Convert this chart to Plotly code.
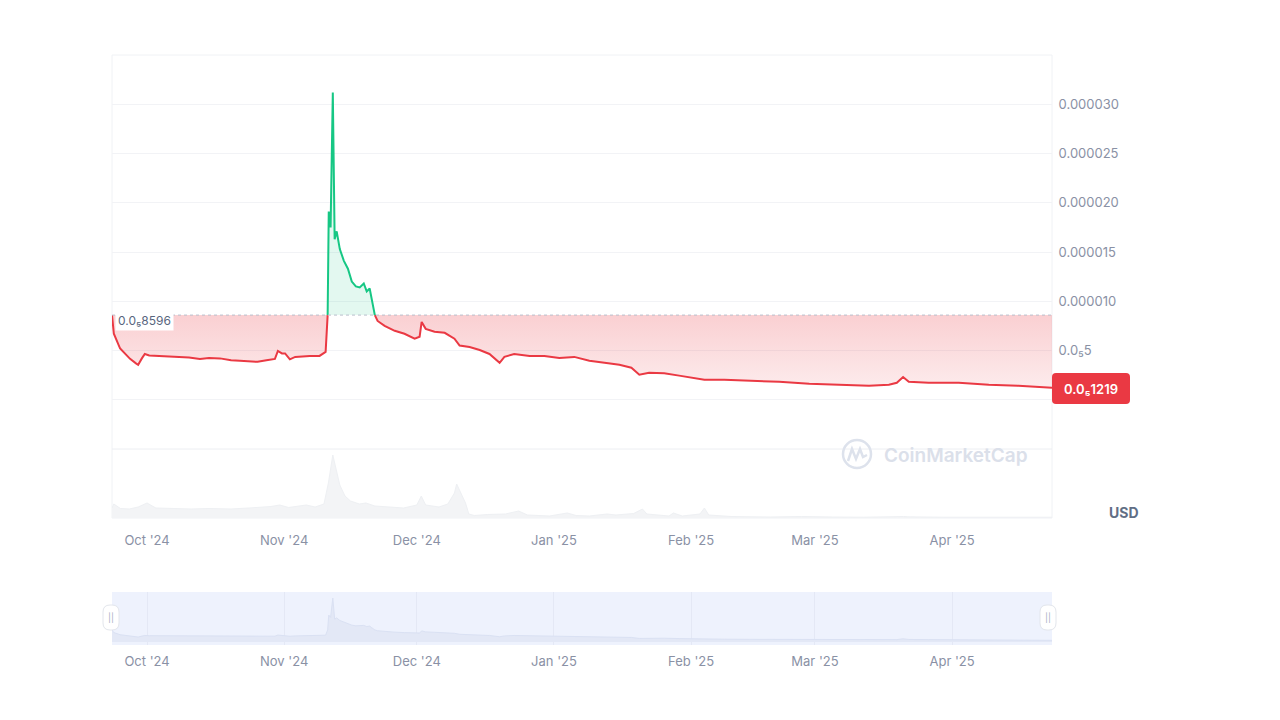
import plotly.graph_objects as go

# ---------------- data ----------------
DATES = [
    "2024-09-23 02:00", "2024-09-23 12:00", "2024-09-24 22:00", "2024-09-26 06:00", "2024-09-27 04:00",
    "2024-09-28 12:00", "2024-09-29 00:00", "2024-09-29 20:00", "2024-09-30 12:00", "2024-10-01 12:00",
    "2024-10-03 22:00", "2024-10-06 00:00", "2024-10-08 11:00", "2024-10-10 12:00", "2024-10-12 23:00",
    "2024-10-15 00:00", "2024-10-17 12:00", "2024-10-20 00:00", "2024-10-22 00:00", "2024-10-24 00:00",
    "2024-10-26 00:00", "2024-10-28 00:00", "2024-10-29 22:00", "2024-10-30 14:00", "2024-10-31 12:00",
    "2024-11-01 05:00", "2024-11-02 07:00", "2024-11-03 12:00", "2024-11-04 12:00", "2024-11-06 19:00",
    "2024-11-09 00:00", "2024-11-10 09:00", "2024-11-10 20:00", "2024-11-11 02:00", "2024-11-11 12:00",
    "2024-11-12 00:00", "2024-11-12 10:00", "2024-11-12 21:00", "2024-11-13 14:00", "2024-11-14 12:00",
    "2024-11-15 10:00", "2024-11-16 07:00", "2024-11-17 05:00", "2024-11-18 02:00", "2024-11-19 00:00",
    "2024-11-19 16:00", "2024-11-20 08:00", "2024-11-20 19:00", "2024-11-21 12:00", "2024-11-22 03:00",
    "2024-11-23 17:00", "2024-11-26 00:00", "2024-11-28 05:00", "2024-11-30 12:00", "2024-12-01 15:00",
    "2024-12-02 02:00", "2024-12-03 00:00", "2024-12-05 00:00", "2024-12-07 07:00", "2024-12-09 12:00",
    "2024-12-10 16:00", "2024-12-12 22:00", "2024-12-15 05:00", "2024-12-17 10:00", "2024-12-19 17:00",
    "2024-12-20 19:00", "2024-12-23 00:00", "2024-12-26 12:00", "2024-12-29 20:00", "2025-01-02 05:00",
    "2025-01-05 14:00", "2025-01-09 00:00", "2025-01-12 10:00", "2025-01-15 19:00", "2025-01-18 12:00",
    "2025-01-20 07:00", "2025-01-22 12:00", "2025-01-25 22:00", "2025-01-29 07:00", "2025-02-01 17:00",
    "2025-02-04 00:00", "2025-02-08 12:00", "2025-02-14 03:00", "2025-02-20 22:00", "2025-02-27 17:00",
    "2025-03-06 10:00", "2025-03-13 05:00", "2025-03-17 17:00", "2025-03-19 12:00", "2025-03-20 22:00",
    "2025-03-22 05:00", "2025-03-26 17:00", "2025-04-02 12:00", "2025-04-09 07:00", "2025-04-16 00:00",
    "2025-04-23 14:00",
]
PRICES = [
    8.596e-6, 6.7e-6, 5.2e-6, 4.6e-6, 4.15e-6,
    3.7e-6, 3.55e-6, 4.2e-6, 4.65e-6, 4.5e-6,
    4.45e-6, 4.4e-6, 4.35e-6, 4.3e-6, 4.15e-6,
    4.25e-6, 4.2e-6, 4.0e-6, 3.95e-6, 3.9e-6,
    3.85e-6, 4.0e-6, 4.15e-6, 4.95e-6, 4.7e-6,
    4.7e-6, 4.1e-6, 4.35e-6, 4.4e-6, 4.45e-6,
    4.45e-6, 4.86e-6, 8.596e-6, 19.1e-6, 17.5e-6,
    31.2e-6, 16.3e-6, 17.1e-6, 15.3e-6, 14.1e-6,
    13.3e-6, 12.0e-6, 11.5e-6, 11.4e-6, 11.8e-6,
    11.0e-6, 11.3e-6, 10.2e-6, 8.596e-6, 8.0e-6,
    7.5e-6, 7.0e-6, 6.7e-6, 6.2e-6, 6.4e-6,
    7.9e-6, 7.2e-6, 6.9e-6, 6.8e-6, 6.2e-6,
    5.5e-6, 5.35e-6, 5.05e-6, 4.65e-6, 3.75e-6,
    4.35e-6, 4.65e-6, 4.45e-6, 4.45e-6, 4.25e-6,
    4.35e-6, 3.95e-6, 3.75e-6, 3.55e-6, 3.25e-6,
    2.55e-6, 2.75e-6, 2.7e-6, 2.45e-6, 2.2e-6,
    2.02e-6, 2.02e-6, 1.92e-6, 1.82e-6, 1.62e-6,
    1.52e-6, 1.42e-6, 1.52e-6, 1.72e-6, 2.3e-6,
    1.82e-6, 1.72e-6, 1.72e-6, 1.52e-6, 1.42e-6,
    1.219e-6,
]
BASE_PRICE = 8.596e-6
LAST_PRICE = 1.219e-6

VOL_DATES = [
    "2024-09-23 02:00", "2024-09-23 12:00", "2024-09-25", "2024-09-27", "2024-09-29", "2024-10-01",
    "2024-10-03", "2024-10-06", "2024-10-11", "2024-10-15", "2024-10-20", "2024-10-24", "2024-10-29",
    "2024-10-31", "2024-11-02", "2024-11-06", "2024-11-08", "2024-11-10", "2024-11-11", "2024-11-12",
    "2024-11-12 18:00", "2024-11-13 14:00", "2024-11-14 18:00", "2024-11-16", "2024-11-18",
    "2024-11-19 12:00", "2024-11-21 12:00", "2024-11-25", "2024-11-28", "2024-12-01", "2024-12-02",
    "2024-12-03", "2024-12-06", "2024-12-08", "2024-12-09 12:00", "2024-12-10", "2024-12-11",
    "2024-12-12", "2024-12-12 18:00", "2024-12-14", "2024-12-17", "2024-12-21", "2024-12-24",
    "2024-12-26", "2024-12-31", "2025-01-04", "2025-01-06", "2025-01-09", "2025-01-13", "2025-01-15",
    "2025-01-19", "2025-01-21", "2025-01-22", "2025-01-27", "2025-01-28", "2025-01-30", "2025-02-03",
    "2025-02-04", "2025-02-05", "2025-02-10", "2025-02-19", "2025-02-26", "2025-03-05", "2025-03-12",
    "2025-03-21", "2025-03-22", "2025-03-30", "2025-04-07", "2025-04-16", "2025-04-23 14:00",
]
VOL_VALUES = [
    100, 140, 95, 90, 110, 150,
    100, 95, 90, 95, 90, 100, 115,
    130, 105, 130, 110, 140, 350, 630,
    480, 330, 220, 170, 140,
    150, 120, 110, 100, 130, 220,
    130, 110, 140, 250, 340, 250,
    150, 40, 25, 35, 40, 70,
    30, 20, 50, 25, 20, 40, 30,
    45, 90, 40, 20, 50, 20, 40,
    100, 30, 15, 10, 15, 10, 8,
    15, 12, 8, 10, 8, 8,
]

X_RANGE = ["2024-09-23 02:00", "2025-04-23 14:00"]
Y_TICKS = [-5e-6, 0, 5e-6, 10e-6, 15e-6, 20e-6, 25e-6, 30e-6]
Y_TICKTEXT = ["", "", "0.0₅5", "0.000010", "0.000015", "0.000020", "0.000025", "0.000030"]

# ---------------- styling helpers (layout positions) ----------------
W, H = 1280, 720
def px(x):
    return x / W
def py(y):
    return 1 - y / H

RED = "#ea3943"
GREEN = "#16c784"
FONT = "Inter, Noto Sans, sans-serif"
TICKC = "#8a91a5"

red_fill_y = [min(p, BASE_PRICE) for p in PRICES]
green_fill_y = [max(p, BASE_PRICE) for p in PRICES]
red_line_y = [p if p <= BASE_PRICE else None for p in PRICES]
green_line_y = [p if p >= BASE_PRICE else None for p in PRICES]
base_y = [BASE_PRICE for _ in PRICES]

fig = go.Figure()

# red fill
fig.add_trace(go.Scatter(x=DATES, y=base_y, mode="lines", line=dict(width=0), hoverinfo="skip",
                         showlegend=False, xaxis="x", yaxis="y"))
fig.add_trace(go.Scatter(x=DATES, y=red_fill_y, mode="lines", line=dict(width=0), fill="tonexty",
                         fillgradient=dict(type="vertical",
                                           colorscale=[[0, "rgba(234,57,67,0.10)"], [1, "rgba(234,57,67,0.24)"]]),
                         hoverinfo="skip", showlegend=False, xaxis="x", yaxis="y"))
# green fill
fig.add_trace(go.Scatter(x=DATES, y=base_y, mode="lines", line=dict(width=0), hoverinfo="skip",
                         showlegend=False, xaxis="x", yaxis="y"))
fig.add_trace(go.Scatter(x=DATES, y=green_fill_y, mode="lines", line=dict(width=0), fill="tonexty",
                         fillcolor="rgba(22,199,132,0.12)", hoverinfo="skip", showlegend=False,
                         xaxis="x", yaxis="y"))
# lines
fig.add_trace(go.Scatter(x=DATES, y=red_line_y, mode="lines", line=dict(color=RED, width=2),
                         connectgaps=False, showlegend=False, xaxis="x", yaxis="y"))
fig.add_trace(go.Scatter(x=DATES, y=green_line_y, mode="lines", line=dict(color=GREEN, width=2),
                         connectgaps=False, showlegend=False, xaxis="x", yaxis="y"))

# volume
fig.add_trace(go.Scatter(x=VOL_DATES, y=VOL_VALUES, mode="lines", line=dict(color="#eef0f3", width=1),
                         fill="tozeroy", fillcolor="#f3f4f6", showlegend=False, xaxis="x2", yaxis="y2"))

# navigator
fig.add_trace(go.Scatter(x=DATES, y=PRICES, mode="lines", line=dict(color="#dae1f3", width=1),
                         fill="tozeroy", fillcolor="#e3e8f6", showlegend=False, xaxis="x3", yaxis="y3"))

xdom = [px(112), px(1052)]

shapes = [
    # plot frame
    dict(type="rect", xref="paper", yref="paper", x0=px(112), x1=px(1052), y0=py(518), y1=py(55),
         line=dict(color="#f0f2f5", width=1), layer="below"),
    # price/volume separator
    dict(type="line", xref="paper", yref="paper", x0=px(112), x1=px(1052), y0=py(449), y1=py(449),
         line=dict(color="#eceef2", width=1), layer="below"),
    # baseline dotted
    dict(type="line", xref="paper", yref="y", x0=px(112), x1=px(1052), y0=BASE_PRICE, y1=BASE_PRICE,
         line=dict(color="#b8bfcc", width=1, dash="dot")),
    # navigator background
    dict(type="rect", xref="paper", yref="paper", x0=px(112), x1=px(1052), y0=py(645), y1=py(592),
         fillcolor="#eef2fd", line=dict(width=0), layer="below"),
]

def rounded_rect(x0, y0, x1, y1, r):
    pts = [
        f"M {px(x0 + r)} {py(y0)}", f"L {px(x1 - r)} {py(y0)}",
        f"Q {px(x1)} {py(y0)} {px(x1)} {py(y0 + r)}", f"L {px(x1)} {py(y1 - r)}",
        f"Q {px(x1)} {py(y1)} {px(x1 - r)} {py(y1)}", f"L {px(x0 + r)} {py(y1)}",
        f"Q {px(x0)} {py(y1)} {px(x0)} {py(y1 - r)}", f"L {px(x0)} {py(y0 + r)}",
        f"Q {px(x0)} {py(y0)} {px(x0 + r)} {py(y0)}", "Z",
    ]
    return " ".join(pts)

# price tag
shapes.append(dict(type="path", xref="paper", yref="paper", path=rounded_rect(1052, 373, 1130, 404, 4),
                   fillcolor=RED, line=dict(width=0)))
# navigator handles
for hx in (111, 1048):
    shapes.append(dict(type="path", xref="paper", yref="paper",
                       path=rounded_rect(hx - 8, 605, hx + 8, 630, 7),
                       fillcolor="white", line=dict(color="#e3e6ec", width=1)))
# watermark logo
shapes.append(dict(type="circle", xref="paper", yref="paper", x0=px(843), x1=px(871), y0=py(468), y1=py(440),
                   line=dict(color="#dde2ec", width=2.5)))
wave = " ".join([
    f"M {px(848)} {py(461)}", f"L {px(852)} {py(449)}", f"L {px(856)} {py(459)}",
    f"L {px(860)} {py(449)}", f"L {px(863)} {py(457)}", f"L {px(867)} {py(455)}",
])
shapes.append(dict(type="path", xref="paper", yref="paper", path=wave,
                   line=dict(color="#dde2ec", width=2.5)))

annotations = [
    dict(text="CoinMarketCap", xref="paper", yref="paper", x=px(882), y=py(455), xanchor="left",
         yanchor="middle", showarrow=False, font=dict(family=FONT, size=19, color="#dbe0ea", weight=600)),
    dict(text="0.0₅1219", xref="paper", yref="paper", x=px(1091), y=py(389), xanchor="center",
         yanchor="middle", showarrow=False, font=dict(family=FONT, size=13, color="white", weight=600)),
    dict(text="0.0₅8596", xref="paper", yref="paper", x=px(115), y=py(320), xanchor="left",
         yanchor="middle", showarrow=False, bgcolor="white", borderpad=2,
         font=dict(family=FONT, size=12, color="#58667e")),
    dict(text="USD", xref="paper", yref="paper", x=px(1124), y=py(512), xanchor="center",
         yanchor="middle", showarrow=False, font=dict(family=FONT, size=14, color="#616e85", weight=700)),
]
for hx in (111, 1048):
    annotations.append(dict(text="||", xref="paper", yref="paper", x=px(hx), y=py(617.5),
                            xanchor="center", yanchor="middle", showarrow=False,
                            font=dict(family=FONT, size=9, color="#a7afbf")))

fig.update_layout(
    width=W, height=H, autosize=False,
    margin=dict(l=0, r=0, t=0, b=0),
    paper_bgcolor="white", plot_bgcolor="rgba(0,0,0,0)",
    font=dict(family=FONT, color=TICKC, size=13),
    showlegend=False, hovermode=False,
    shapes=shapes, annotations=annotations,
    xaxis=dict(domain=xdom, range=X_RANGE, anchor="y", type="date", showticklabels=False,
               showgrid=False, zeroline=False, showline=False),
    yaxis=dict(domain=[py(449), py(55)], range=[-5e-6, 35e-6], anchor="x", side="right",
               tickvals=Y_TICKS, ticktext=Y_TICKTEXT, showgrid=True, gridcolor="#f2f3f6",
               zeroline=False, showline=False, ticks="outside", ticklen=3,
               tickcolor="rgba(0,0,0,0)", tickfont=dict(family=FONT, size=13, color=TICKC)),
    xaxis2=dict(domain=xdom, range=X_RANGE, anchor="y2", matches="x", type="date",
                tickformat="%b '%y", dtick="M1", tick0="2024-10-01", showgrid=False, zeroline=False,
                showline=False, ticks="outside", ticklen=10, tickcolor="rgba(0,0,0,0)",
                tickfont=dict(family=FONT, size=13, color=TICKC)),
    yaxis2=dict(domain=[py(518), py(449)], range=[0, 690], anchor="x2", visible=False),
    xaxis3=dict(domain=xdom, range=X_RANGE, anchor="y3", type="date",
                tickformat="%b '%y", dtick="M1", tick0="2024-10-01", showgrid=True, gridcolor="#e4e8f5",
                zeroline=False, showline=False, ticks="outside", ticklen=4, tickcolor="rgba(0,0,0,0)",
                tickfont=dict(family=FONT, size=13, color=TICKC)),
    yaxis3=dict(domain=[py(645), py(592)], range=[-2.1e-6, 35.5e-6], anchor="x3", visible=False),
)

fig.write_html("out.html", config={"displayModeBar": False},
               post_script="document.body.style.margin='0px';document.body.style.overflow='hidden';")
